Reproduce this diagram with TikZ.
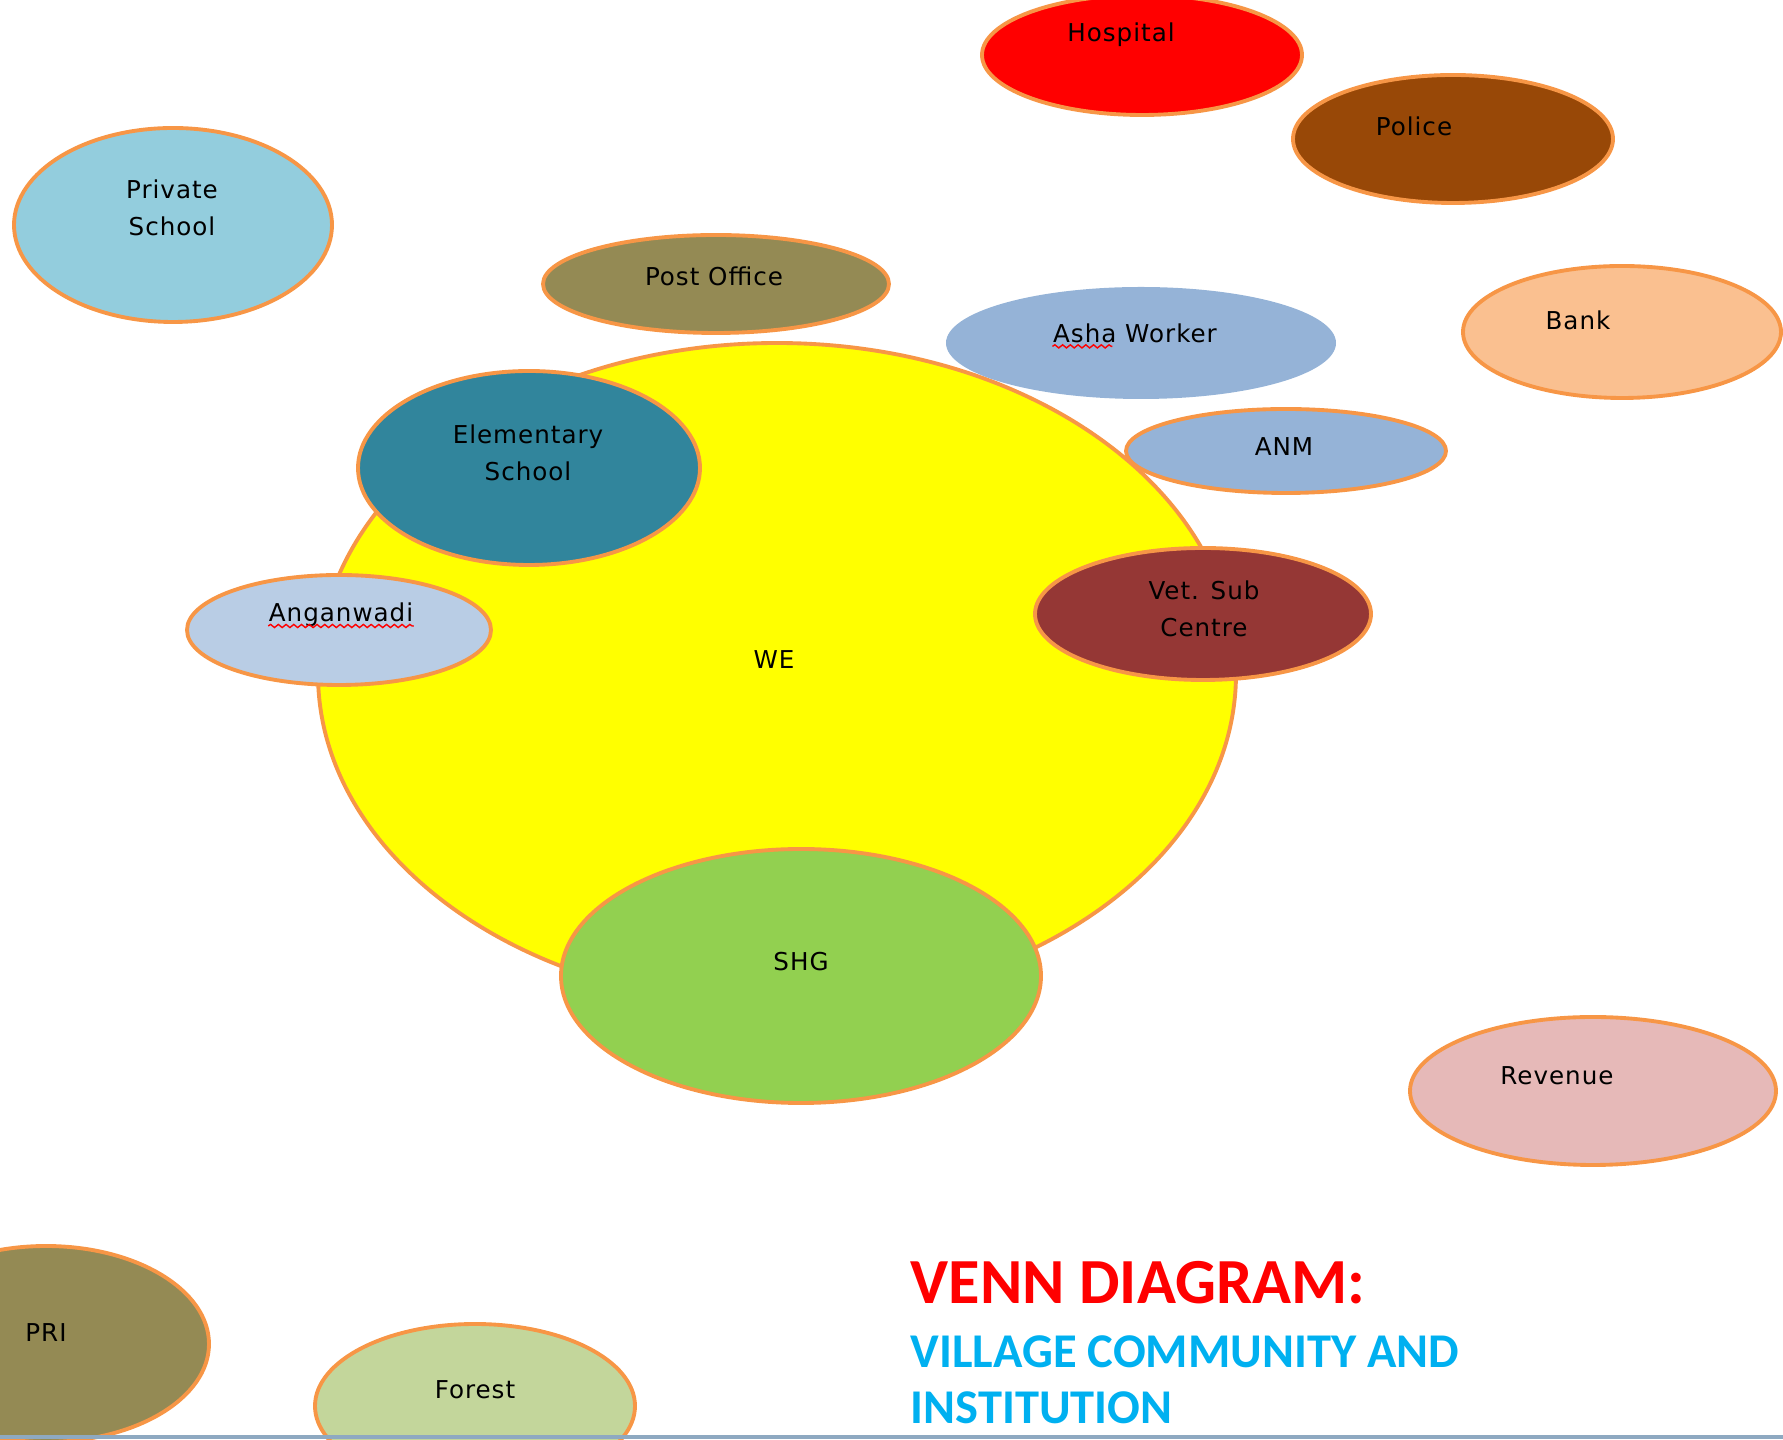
\documentclass[tikz,border=0pt]{standalone}
\usepackage{fontspec}
\setmainfont{DejaVu Sans}[LetterSpace=4]
\newfontfamily\titlefont{Carlito}
\usetikzlibrary{decorations.pathmorphing}
\definecolor{rim}{HTML}{F79646}
\definecolor{weyellow}{HTML}{FFFF00}
\definecolor{hospred}{HTML}{FF0000}
\definecolor{policebrown}{HTML}{984807}
\definecolor{privblue}{HTML}{93CDDD}
\definecolor{olive}{HTML}{948A54}
\definecolor{bankpeach}{HTML}{FAC090}
\definecolor{ashablue}{HTML}{95B3D7}
\definecolor{teal}{HTML}{31859C}
\definecolor{angblue}{HTML}{B9CDE5}
\definecolor{vetred}{HTML}{953735}
\definecolor{shggreen}{HTML}{92D050}
\definecolor{revpink}{HTML}{E6B9B8}
\definecolor{forestgreen}{HTML}{C3D69B}
\definecolor{titlecyan}{HTML}{00B0F0}
\definecolor{footline}{HTML}{8EA9C1}
\begin{document}
\begin{tikzpicture}[
    bubble/.style={draw=rim, line width=1.1pt},
    lbl/.style={font=\fontsize{7}{10.4}\selectfont, align=center, text=black, inner sep=0pt},
    squiggle/.style={draw=red, line width=0.4pt, decorate, decoration={snake, amplitude=0.45pt, segment length=2.2pt}},
    title/.style={anchor=base west, inner sep=0pt, font=\titlefont\bfseries}
]
    \useasboundingbox (0,0) rectangle (17.83,14.40);

    % the big one first, the rest sits on it
    \filldraw[bubble, fill=weyellow] (7.77,7.66) ellipse (4.59 and 3.31);
    \node[lbl](we) at (7.74,7.80){WE};

    \filldraw[bubble, fill=hospred] (11.42,13.85) ellipse (1.60 and 0.60);
    \node[lbl](hosp) at (11.21,14.05){Hospital};

    \filldraw[bubble, fill=policebrown] (14.53,13.01) ellipse (1.60 and 0.64);
    \node[lbl](police) at (14.14,13.14){Police};

    \filldraw[bubble, fill=privblue] (1.73,12.15) ellipse (1.59 and 0.97);
    \node[lbl](priv) at (1.72,12.32){Private\\School};

    \filldraw[bubble, fill=olive] (7.16,11.56) ellipse (1.73 and 0.49);
    \node[lbl](post) at (7.14,11.64){Post Office};

    \filldraw[bubble, fill=bankpeach] (16.22,11.08) ellipse (1.59 and 0.66);
    \node[lbl](bank) at (15.78,11.20){Bank};

    \fill[ashablue] (11.41,10.97) ellipse (1.95 and 0.56);
    \node[lbl](asha) at (11.35,11.07){Asha Worker};
    \draw[squiggle] ([yshift=-1.2pt]asha.base west) -- ++(0.60,0);

    \filldraw[bubble, fill=ashablue] (12.86,9.89) ellipse (1.60 and 0.42);
    \node[lbl](anm) at (12.84,9.93){ANM};

    \filldraw[bubble, fill=teal] (5.29,9.72) ellipse (1.71 and 0.97);
    \node[lbl](elem) at (5.28,9.87){Elementary\\School};

    \filldraw[bubble, fill=angblue] (3.39,8.10) ellipse (1.52 and 0.55);
    \node[lbl](angan) at (3.41,8.25){Anganwadi};
    \draw[squiggle] ([yshift=-1.2pt]angan.base west) -- ([yshift=-1.2pt]angan.base east);

    \filldraw[bubble, fill=vetred] (12.03,8.26) ellipse (1.68 and 0.66);
    \node[lbl](vet) at (12.04,8.31){Vet. Sub\\Centre};

    \filldraw[bubble, fill=shggreen] (8.01,4.64) ellipse (2.40 and 1.27);
    \node[lbl](shg) at (8.01,4.78){SHG};

    \filldraw[bubble, fill=revpink] (15.93,3.49) ellipse (1.83 and 0.74);
    \node[lbl](rev) at (15.57,3.64){Revenue};

    \filldraw[bubble, fill=olive] (0.46,0.96) ellipse (1.63 and 0.98);
    \node[lbl](pri) at (0.46,1.07){PRI};

    \filldraw[bubble, fill=forestgreen] (4.75,0.34) ellipse (1.60 and 0.82);
    \node[lbl](forest) at (4.75,0.50){Forest};

    \draw[footline, line width=1pt] (0,0.03) -- (17.83,0.03);

    \node[title, text=hospred, font=\titlefont\bfseries\fontsize{18.3}{20}\selectfont](venn) at (9.10,1.36){VENN DIAGRAM:};
    \node[title, text=titlecyan, font=\titlefont\bfseries\fontsize{13.8}{16}\selectfont](sub1) at (9.10,0.72){VILLAGE COMMUNITY AND};
    \node[title, text=titlecyan, font=\titlefont\bfseries\fontsize{13.8}{16}\selectfont](sub2) at (9.10,0.16){INSTITUTION};
\end{tikzpicture}
\end{document}
